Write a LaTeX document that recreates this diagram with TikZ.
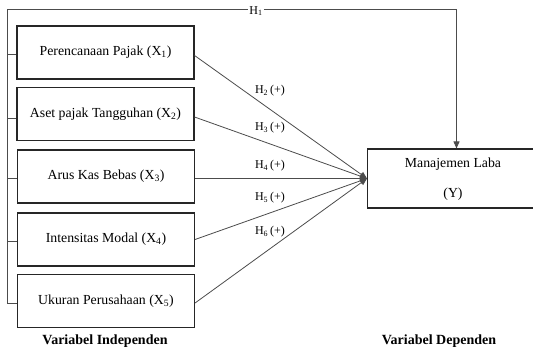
\documentclass[tikz,border=0pt]{standalone}
\usepackage{fontspec}
\setmainfont{Liberation Serif}
\usetikzlibrary{arrows.meta}
\begin{document}
\begin{tikzpicture}[x=1pt,y=-1pt,
  varbox/.style={draw=black!85, line width=1.1pt, minimum width=177pt, minimum height=53pt, inner sep=0pt, font=\fontsize{13.8}{16}\selectfont},
  conn/.style={draw=black!70, line width=0.8pt},
  arr/.style={conn, -{Triangle[length=7pt,width=6pt]}},
  hlab/.style={font=\fontsize{12}{14}\selectfont, inner sep=1pt},
  title/.style={font=\fontsize{14}{16}\selectfont\bfseries}]
\clip (0,0) rectangle (533,348);
\fill[white] (0,0) rectangle (533,348);
\node[varbox] (b1) at (105.5,52.5) {Perencanaan Pajak (X\textsubscript{1})};
\node[varbox] (b2) at (105.5,114) {Aset pajak Tangguhan (X\textsubscript{2})};
\node[varbox] (b3) at (106,176.5) {Arus Kas Bebas (X\textsubscript{3})};
\node[varbox] (b4) at (106,239.5) {Intensitas Modal (X\textsubscript{4})};
\node[varbox] (b5) at (106,301) {Ukuran Perusahaan (X\textsubscript{5})};
\node[draw=black!85, line width=1.1pt, minimum width=172pt, minimum height=59pt, inner sep=0pt] (y) at (453.5,178.5) {};
\node[font=\fontsize{13.8}{16}\selectfont] (ytext1) at (453,164) {Manajemen Laba};
\node[font=\fontsize{13.8}{16}\selectfont] (ytext2) at (453,194) {(Y)};
% left bracket
\coordinate (ltop) at (7,9.5);
\coordinate (lbot) at (7,303);
\coordinate (t1) at (7,54);
\coordinate (t2) at (7,118);
\coordinate (t3) at (7,178);
\coordinate (t4) at (7,241);
\draw[conn] (ltop) -- (lbot);
\draw[conn] (t1) -- (t1 -| b1.west);
\draw[conn] (t2) -- (t2 -| b2.west);
\draw[conn] (t3) -- (t3 -| b3.west);
\draw[conn] (t4) -- (t4 -| b4.west);
\draw[conn] (lbot) -- (lbot -| b5.west);
% H1
\node[hlab] (h1) at (256,11) {H\textsubscript{1}};
\coordinate (h1c) at (456.5,9.5);
\draw[conn] (ltop) -- (ltop -| h1.west);
\draw[arr] (h1.east |- h1c) -- (h1c) -- (h1c |- y.north);
% converging arrows
\coordinate (yin) at (y.west);
\draw[arr] ([yshift=-3pt]b1.east) -- (yin);
\draw[arr] ([yshift=-3pt]b2.east) -- (yin);
\draw[arr] ([yshift=-2pt]b3.east) -- (yin);
\draw[arr] (b4.east) -- (yin);
\draw[arr] ([yshift=-2pt]b5.east) -- (yin);
\node[hlab] (h2) at (270,91) {H\textsubscript{2}\,(+)};
\node[hlab] (h3) at (270,128) {H\textsubscript{3}\,(+)};
\node[hlab] (h4) at (270,166) {H\textsubscript{4}\,(+)};
\node[hlab] (h5) at (270,198) {H\textsubscript{5}\,(+)};
\node[hlab] (h6) at (270,232) {H\textsubscript{6}\,(+)};
% titles
\node[title] (ti) at (105,341) {Variabel Independen};
\node[title] (td) at (439,341) {Variabel Dependen};
\end{tikzpicture}
\end{document}
